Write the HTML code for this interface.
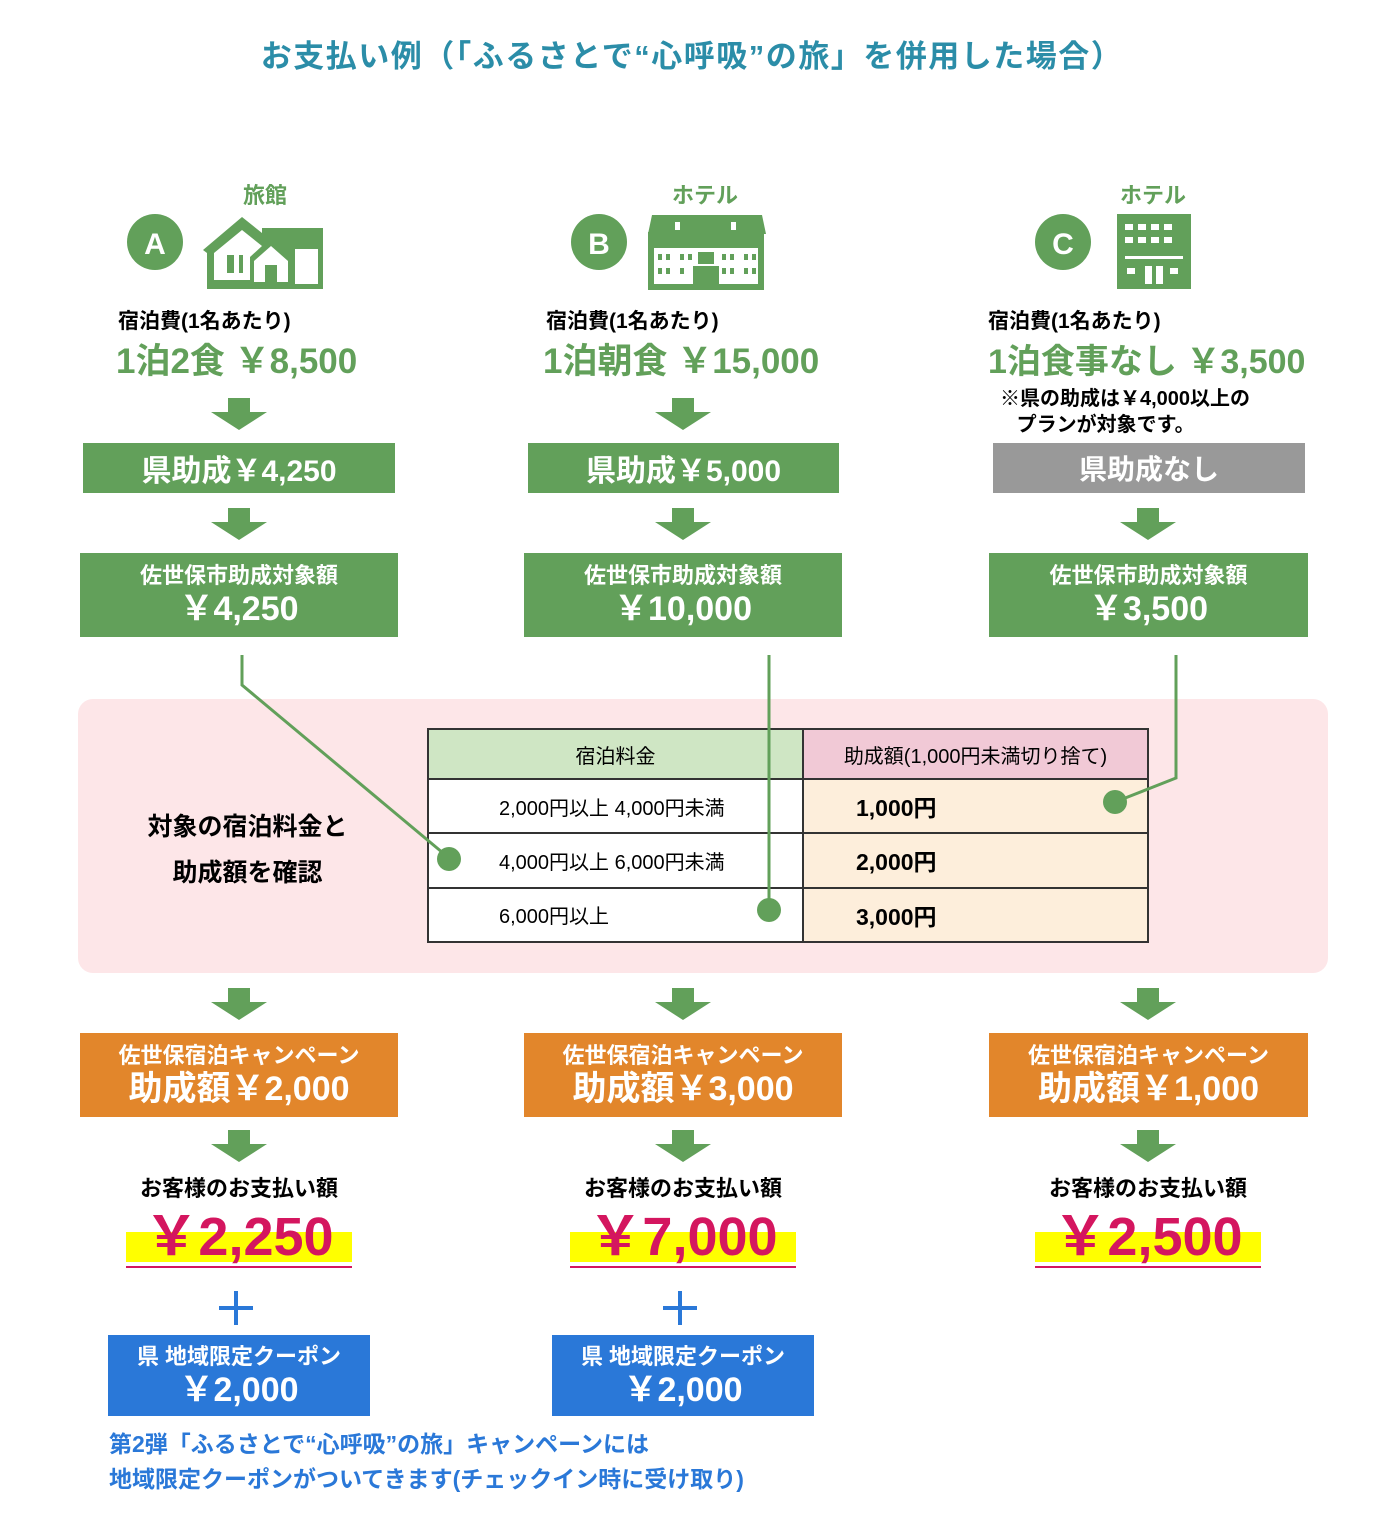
<!DOCTYPE html>
<html><head><meta charset="utf-8">
<style>
*{margin:0;padding:0;box-sizing:border-box}
body{width:1384px;height:1540px;background:#fff;position:relative;overflow:hidden;font-family:"Liberation Sans","Noto Sans CJK JP",sans-serif;font-weight:bold}
.a{position:absolute}
.c{position:absolute;display:flex;flex-direction:column;align-items:center;justify-content:center;text-align:center;white-space:nowrap}
.g{background:#62a05a;color:#fff}
.o{background:#e2862b;color:#fff}
.b{background:#2a78d8;color:#fff}
.l1{font-size:22px;line-height:28px}
.l2{font-size:34px;line-height:38px}
.green{color:#62a05a}
.price{font-size:54px;color:#d4165f;line-height:60px}
</style></head><body>
<div class="c" style="left:0;top:30px;width:1384px;height:46px;font-size:31px;letter-spacing:1.5px;color:#2b8da8">お支払い例（「ふるさとで“心呼吸”の旅」を併用した場合）</div>

<svg class="a" style="left:0;top:0" width="1384" height="1540">
<g fill="#62a05a">
<circle cx="155" cy="242" r="28"/><circle cx="599" cy="242" r="28"/><circle cx="1063" cy="242" r="28"/>
<polygon points="203,250 242,217 262,233 262,228 323,228 323,289 207,289 207,253"/>
<rect x="648" y="232" width="116" height="58"/><polygon points="652,215 762,215 766,234 648,234"/>
<rect x="1117" y="214" width="74" height="75"/>
</g>
<g fill="#fff">
<polygon points="214,253 242,230 262,246 250,257 250,280 214,280"/>
<rect x="227" y="255" width="7" height="18" fill="#62a05a"/><rect x="239" y="255" width="4" height="18" fill="#62a05a"/>
<polygon points="254,261 271,246 288,261 288,282 254,282"/><rect x="265" y="265" width="12" height="20" fill="#62a05a"/>
<rect x="295" y="249" width="23" height="35"/>
<rect x="654" y="248" width="104" height="36"/>
<rect x="1125" y="224" width="8" height="6"/><rect x="1138" y="224" width="8" height="6"/><rect x="1151" y="224" width="8" height="6"/><rect x="1164" y="224" width="8" height="6"/>
<rect x="1125" y="237" width="8" height="6"/><rect x="1138" y="237" width="8" height="6"/><rect x="1151" y="237" width="8" height="6"/><rect x="1164" y="237" width="8" height="6"/>
<rect x="1125" y="256" width="58" height="3"/><rect x="1127" y="268" width="8" height="6"/><rect x="1145" y="266" width="7" height="18"/><rect x="1156" y="266" width="7" height="18"/><rect x="1170" y="268" width="8" height="6"/>
</g>
<g fill="#62a05a"><rect x="658" y="254" width="4" height="6"/><rect x="666" y="254" width="4" height="6"/><rect x="680" y="254" width="4" height="6"/><rect x="688" y="254" width="4" height="6"/><rect x="698" y="252" width="16" height="12"/><rect x="722" y="254" width="4" height="6"/><rect x="730" y="254" width="4" height="6"/><rect x="744" y="254" width="4" height="6"/><rect x="752" y="254" width="4" height="6"/>
<rect x="658" y="268" width="4" height="6"/><rect x="666" y="268" width="4" height="6"/><rect x="680" y="268" width="4" height="6"/><rect x="722" y="268" width="4" height="6"/><rect x="730" y="268" width="4" height="6"/><rect x="744" y="268" width="4" height="6"/><rect x="752" y="268" width="4" height="6"/><rect x="693" y="266" width="26" height="20"/></g>
<g fill="#fff"><rect x="675" y="222" width="5" height="8"/><rect x="731" y="222" width="5" height="8"/></g>
<text x="155" y="254" font-size="30" fill="#fff" text-anchor="middle" font-family="Liberation Sans">A</text>
<text x="599" y="254" font-size="30" fill="#fff" text-anchor="middle" font-family="Liberation Sans">B</text>
<text x="1063" y="254" font-size="30" fill="#fff" text-anchor="middle" font-family="Liberation Sans">C</text>
</svg>

<div class="c green" style="left:215px;top:180px;width:100px;height:28px;font-size:22px">旅館</div>
<div class="c green" style="left:655px;top:180px;width:100px;height:28px;font-size:22px">ホテル</div>
<div class="c green" style="left:1103px;top:180px;width:100px;height:28px;font-size:22px">ホテル</div>

<div class="a" style="left:118px;top:305px;font-size:21px">宿泊費(1名あたり)</div>
<div class="a" style="left:546px;top:305px;font-size:21px">宿泊費(1名あたり)</div>
<div class="a" style="left:988px;top:305px;font-size:21px">宿泊費(1名あたり)</div>
<div class="a green" style="left:116px;top:340px;font-size:35px;line-height:44px">1泊2食 ￥8,500</div>
<div class="a green" style="left:543px;top:340px;font-size:35px;line-height:44px">1泊朝食 ￥15,000</div>
<div class="a green" style="left:988px;top:340px;font-size:34px;line-height:44px">1泊食事なし ￥3,500</div>
<div class="a" style="left:1000px;top:386px;font-size:20px;line-height:26px">※県の助成は￥4,000以上の<br>&nbsp;&nbsp;&nbsp;プランが対象です。</div>

<div class="c g" style="left:83px;top:443px;width:312px;height:50px;font-size:30px">県助成￥4,250</div>
<div class="c g" style="left:528px;top:443px;width:311px;height:50px;font-size:30px">県助成￥5,000</div>
<div class="c" style="left:993px;top:443px;width:312px;height:50px;font-size:28px;background:#999;color:#fff">県助成なし</div>

<div class="c g" style="left:80px;top:553px;width:318px;height:84px"><div class="l1">佐世保市助成対象額</div><div class="l2">￥4,250</div></div>
<div class="c g" style="left:524px;top:553px;width:318px;height:84px"><div class="l1">佐世保市助成対象額</div><div class="l2">￥10,000</div></div>
<div class="c g" style="left:989px;top:553px;width:319px;height:84px"><div class="l1">佐世保市助成対象額</div><div class="l2">￥3,500</div></div>

<div class="a" style="left:78px;top:699px;width:1250px;height:274px;background:#fde6e8;border-radius:15px"></div>
<div class="c" style="left:130px;top:800px;width:235px;height:100px;font-size:25px;line-height:46px">対象の宿泊料金と<br>助成額を確認</div>

<table class="a" style="left:427px;top:728px;width:722px;height:215px;border-collapse:collapse;font-size:20px;font-weight:normal">
<tr style="height:50px"><td style="width:375px;background:#cfe6c4;border:2px solid #333;text-align:center;font-weight:normal">宿泊料金</td><td style="background:#f1c9d6;border:2px solid #333;text-align:center;font-weight:normal">助成額(1,000円未満切り捨て)</td></tr>
<tr><td style="border:2px solid #333;padding-left:70px;font-weight:normal;background:#fff">2,000円以上 4,000円未満</td><td style="background:#fdeedb;border:2px solid #333;padding-left:52px;font-size:23px;font-weight:bold">1,000円</td></tr>
<tr><td style="border:2px solid #333;padding-left:70px;font-weight:normal;background:#fff">4,000円以上 6,000円未満</td><td style="background:#fdeedb;border:2px solid #333;padding-left:52px;font-size:23px;font-weight:bold">2,000円</td></tr>
<tr><td style="border:2px solid #333;padding-left:70px;font-weight:normal;background:#fff">6,000円以上</td><td style="background:#fdeedb;border:2px solid #333;padding-left:52px;font-size:23px;font-weight:bold">3,000円</td></tr>
</table>

<svg class="a" style="left:0;top:0" width="1384" height="1540">
<defs><polygon id="ar" points="-11,0 11,0 11,14 28,14 0,32 -28,14 -11,14"/></defs>
<g stroke="#62a05a" stroke-width="3" fill="none">
<polyline points="242,655 242,685 449,858"/>
<polyline points="769,655 769,910"/>
<polyline points="1176,655 1176,778 1115,802"/>
</g>
<g fill="#62a05a">
<circle cx="449" cy="859" r="12"/><circle cx="769" cy="910" r="12"/><circle cx="1115" cy="802" r="12"/>
<use href="#ar" x="239" y="398"/><use href="#ar" x="683" y="398"/>
<use href="#ar" x="239" y="508"/><use href="#ar" x="683" y="508"/><use href="#ar" x="1148" y="508"/>
<use href="#ar" x="239" y="988"/><use href="#ar" x="683" y="988"/><use href="#ar" x="1148" y="988"/>
<use href="#ar" x="239" y="1130"/><use href="#ar" x="683" y="1130"/><use href="#ar" x="1148" y="1130"/>
</g>
<g fill="#2a78d8"><rect x="219" y="1306" width="34" height="4"/><rect x="234" y="1291" width="4" height="34"/>
<rect x="663" y="1306" width="34" height="4"/><rect x="678" y="1291" width="4" height="34"/></g>
<g fill="#ffff00"><rect x="126" y="1232" width="226" height="30"/><rect x="570" y="1232" width="226" height="30"/><rect x="1035" y="1232" width="226" height="30"/></g>
<g fill="#d4165f"><rect x="126" y="1266" width="226" height="2"/><rect x="570" y="1266" width="226" height="2"/><rect x="1035" y="1266" width="226" height="2"/></g>
</svg>

<div class="c o" style="left:80px;top:1033px;width:318px;height:84px"><div class="l1">佐世保宿泊キャンペーン</div><div class="l2">助成額￥2,000</div></div>
<div class="c o" style="left:524px;top:1033px;width:318px;height:84px"><div class="l1">佐世保宿泊キャンペーン</div><div class="l2">助成額￥3,000</div></div>
<div class="c o" style="left:989px;top:1033px;width:319px;height:84px"><div class="l1">佐世保宿泊キャンペーン</div><div class="l2">助成額￥1,000</div></div>

<div class="c" style="left:89px;top:1172px;width:300px;height:30px;font-size:22px">お客様のお支払い額</div>
<div class="c" style="left:533px;top:1172px;width:300px;height:30px;font-size:22px">お客様のお支払い額</div>
<div class="c" style="left:998px;top:1172px;width:300px;height:30px;font-size:22px">お客様のお支払い額</div>
<div class="c price" style="left:89px;top:1207px;width:300px;height:60px">￥2,250</div>
<div class="c price" style="left:533px;top:1207px;width:300px;height:60px">￥7,000</div>
<div class="c price" style="left:998px;top:1207px;width:300px;height:60px">￥2,500</div>

<div class="c b" style="left:108px;top:1335px;width:262px;height:81px"><div class="l1">県 地域限定クーポン</div><div class="l2">￥2,000</div></div>
<div class="c b" style="left:552px;top:1335px;width:262px;height:81px"><div class="l1">県 地域限定クーポン</div><div class="l2">￥2,000</div></div>

<div class="a" style="left:109px;top:1427px;font-size:23px;line-height:35px;color:#2a78d8">第2弾「ふるさとで“心呼吸”の旅」キャンペーンには<br>地域限定クーポンがついてきます(チェックイン時に受け取り)</div>
</body></html>
